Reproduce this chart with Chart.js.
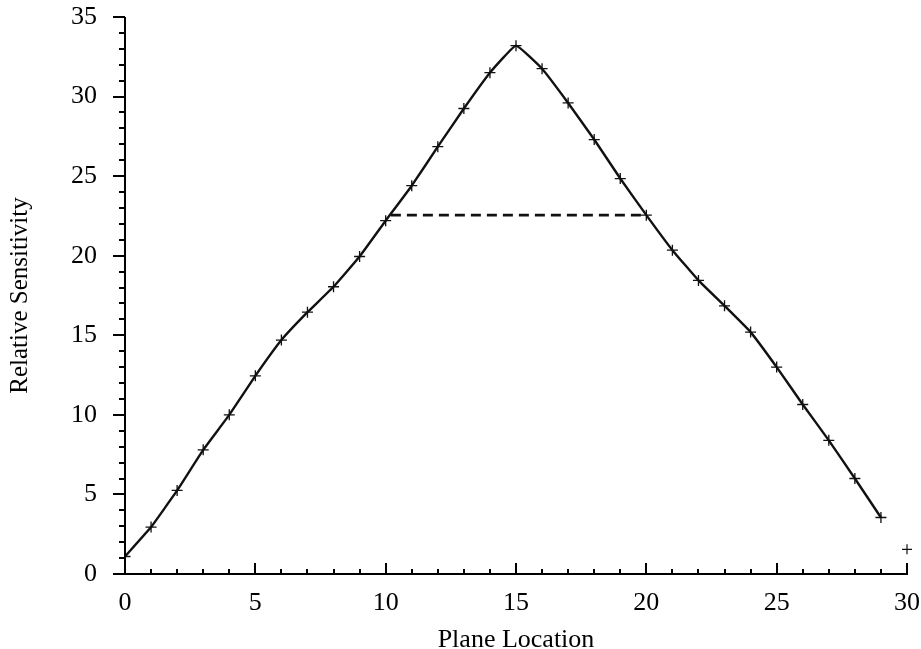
<!DOCTYPE html>
<html>
<head>
<meta charset="utf-8">
<script src="https://cdn.jsdelivr.net/npm/chart.js@4"></script>
<style>
  html, body { margin: 0; padding: 0; background: #fff; }
  #wrap { width: 921px; height: 649px; }
</style>
</head>
<body>
<div id="wrap"><canvas id="sensChart" width="921" height="649"></canvas></div>
<script>
// sensitivity profile along the planes
const planeLocation = [0, 1, 2, 3, 4, 5, 6, 7, 8, 9, 10, 11, 12, 13, 14,
  15, 16, 17, 18, 19, 20, 21, 22, 23, 24, 25, 26, 27, 28, 29];
const sensitivity = [1.1, 2.95, 5.25, 7.8, 10.0, 12.45, 14.7, 16.45, 18.05, 19.95,
  22.2, 24.4, 26.85, 29.25, 31.5, 33.2, 31.75, 29.6, 27.3, 24.85,
  22.55, 20.35, 18.45, 16.85, 15.2, 13.0, 10.65, 8.4, 6.0, 3.55];

// last plane, plotted on its own
const edgeLocation = [30];
const edgeSensitivity = [1.55];

// dashed level line
const levelLocation = [10.2, 20];
const levelValue = [22.55, 22.55];

const xTicks = [0, 5, 10, 15, 20, 25, 30];
const yTicks = [0, 5, 10, 15, 20, 25, 30, 35];

const FONT = "'Liberation Serif', 'Times New Roman', serif";

const toPoints = (xs, ys) => xs.map((x, i) => ({ x: x, y: ys[i] }));

// axis lines with major/minor tick marks
const axisTicks = {
  id: 'axisTicks',
  afterDraw(chart) {
    const { ctx, scales: { x, y } } = chart;
    const x0 = x.getPixelForValue(0);
    const y0 = y.getPixelForValue(0);
    ctx.save();
    ctx.strokeStyle = '#000';
    ctx.lineWidth = 2;
    ctx.lineCap = 'butt';
    ctx.beginPath();
    // axis lines
    ctx.moveTo(x0 - 12, y0);
    ctx.lineTo(x.getPixelForValue(30) + 1, y0);
    ctx.moveTo(x0, y0);
    ctx.lineTo(x0, y.getPixelForValue(35));
    // x ticks point up into the plot
    for (let v = 0; v <= 30; v++) {
      const px = Math.round(x.getPixelForValue(v));
      const len = v % 5 === 0 ? 11 : 5;
      ctx.moveTo(px, y0);
      ctx.lineTo(px, y0 - len);
    }
    // y ticks point out to the left
    for (let v = 0; v <= 35; v++) {
      const py = Math.round(y.getPixelForValue(v));
      const len = v % 5 === 0 ? 12 : 6;
      ctx.moveTo(x0, py);
      ctx.lineTo(x0 - len, py);
    }
    ctx.stroke();
    ctx.restore();
  }
};

new Chart(document.getElementById('sensChart'), {
  type: 'scatter',
  data: {
    datasets: [
      {
        label: 'Sensitivity',
        data: toPoints(planeLocation, sensitivity),
        showLine: true,
        borderColor: '#111',
        borderWidth: 2.4,
        tension: 0.1,
        pointStyle: 'cross',
        pointRadius: 5.5,
        pointBorderWidth: 1.3,
        pointBorderColor: '#111',
        backgroundColor: '#111'
      },
      {
        label: 'Edge',
        data: toPoints(edgeLocation, edgeSensitivity),
        showLine: false,
        clip: false,
        pointStyle: 'cross',
        pointRadius: 5,
        pointBorderWidth: 1.2,
        pointBorderColor: '#111'
      },
      {
        label: 'Level',
        data: toPoints(levelLocation, levelValue),
        showLine: true,
        borderColor: '#111',
        borderWidth: 2.6,
        borderDash: [10, 6],
        pointRadius: 0
      }
    ]
  },
  options: {
    responsive: false,
    animation: false,
    layout: { padding: { left: 0, right: 14, top: 17, bottom: 0 } },
    plugins: {
      legend: { display: false },
      tooltip: { enabled: false }
    },
    scales: {
      x: {
        type: 'linear',
        min: 0,
        max: 30,
        afterFit: (s) => { s.height = 75; s.paddingLeft = 0; s.paddingRight = 0; },
        afterBuildTicks: (s) => { s.ticks = xTicks.map(v => ({ value: v })); },
        grid: { display: false, drawTicks: false },
        border: { display: false },
        ticks: { color: '#000', padding: 14, font: { family: FONT, size: 26 } },
        title: {
          display: true,
          text: 'Plane Location',
          color: '#000',
          font: { family: FONT, size: 26, lineHeight: 1 },
          padding: { top: 0, bottom: -4 }
        }
      },
      y: {
        type: 'linear',
        min: 0,
        max: 35,
        afterFit: (s) => { s.width = 125; s.paddingTop = 0; s.paddingBottom = 0; },
        afterBuildTicks: (s) => { s.ticks = yTicks.map(v => ({ value: v })); },
        grid: { display: false, drawTicks: false },
        border: { display: false },
        ticks: { color: '#000', padding: 28, font: { family: FONT, size: 26 } },
        title: {
          display: true,
          text: 'Relative Sensitivity',
          color: '#000',
          font: { family: FONT, size: 25, lineHeight: 1 },
          padding: { top: 8, bottom: 0 }
        }
      }
    }
  },
  plugins: [axisTicks]
});
</script>
</body>
</html>
